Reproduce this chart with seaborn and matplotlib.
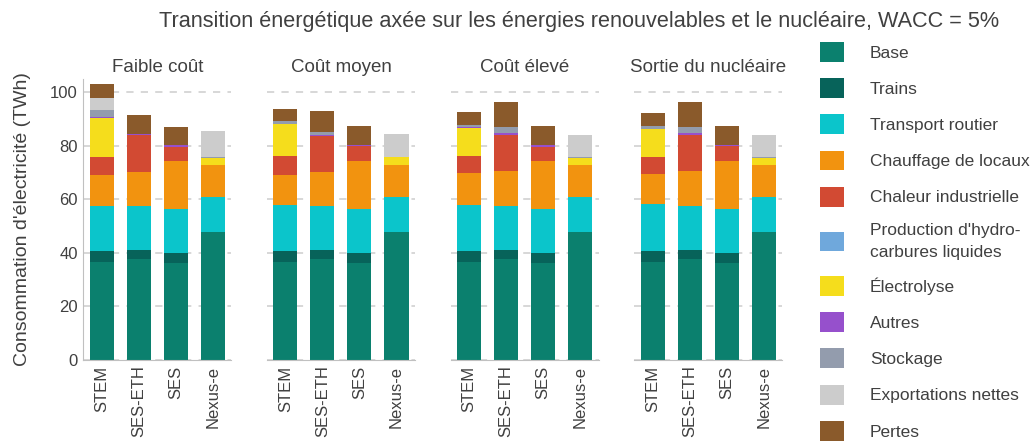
import numpy as np
import pandas as pd
import seaborn as sns
import matplotlib.pyplot as plt
from matplotlib.patches import Patch

models = ["STEM", "SES-ETH", "SES", "Nexus-e"]
scenarios = ["Faible coût", "Coût moyen", "Coût élevé", "Sortie du nucléaire"]
categories = ["Base", "Trains", "Transport routier", "Chauffage de locaux",
              "Chaleur industrielle", "Production d'hydro-\ncarbures liquides",
              "Électrolyse", "Autres", "Stockage", "Exportations nettes", "Pertes"]
colors = ["#0b806e", "#07635a", "#0bc5cb", "#f2930f", "#d24a33", "#6fa8dc",
          "#f5dd1c", "#9650cc", "#939cad", "#cccccc", "#8a5a2b"]

# TWh per category (rows) for STEM, SES-ETH, SES, Nexus-e
faible = [
    [36.6, 37.7, 36.2, 47.8],
    [4.1, 3.4, 3.8, 0.0],
    [17.0, 16.6, 16.4, 13.1],
    [11.4, 12.5, 17.9, 12.0],
    [6.7, 13.8, 5.3, 0.0],
    [0.0, 0.0, 0.0, 0.0],
    [14.6, 0.0, 0.0, 2.6],
    [0.4, 0.3, 0.8, 0.0],
    [2.6, 0.2, 0.0, 0.3],
    [4.5, 0.0, 0.0, 9.8],
    [5.2, 7.0, 6.6, 0.0],
]
moyen = [
    [36.6, 37.7, 36.2, 47.8],
    [4.1, 3.4, 3.8, 0.0],
    [17.1, 16.6, 16.4, 13.1],
    [11.3, 12.5, 17.9, 12.0],
    [7.1, 13.6, 5.6, 0.0],
    [0.0, 0.0, 0.0, 0.0],
    [12.0, 0.0, 0.0, 2.9],
    [0.0, 0.4, 0.4, 0.0],
    [1.1, 1.0, 0.0, 0.0],
    [0.0, 0.0, 0.0, 8.6],
    [4.5, 7.8, 7.1, 0.0],
]
eleve = [
    [36.6, 37.7, 36.2, 47.8],
    [4.1, 3.4, 3.8, 0.0],
    [17.2, 16.6, 16.4, 13.1],
    [12.0, 12.9, 17.9, 12.0],
    [6.3, 13.5, 5.3, 0.0],
    [0.0, 0.0, 0.0, 0.0],
    [10.5, 0.0, 0.0, 2.6],
    [0.3, 0.7, 0.7, 0.0],
    [0.8, 2.2, 0.0, 0.3],
    [0.0, 0.0, 0.0, 8.3],
    [4.9, 9.4, 7.1, 0.0],
]
sortie = [
    [36.6, 37.7, 36.2, 47.8],
    [4.1, 3.4, 3.8, 0.0],
    [17.7, 16.6, 16.4, 13.1],
    [11.1, 12.9, 17.9, 12.0],
    [6.3, 13.5, 5.6, 0.0],
    [0.0, 0.0, 0.0, 0.0],
    [10.5, 0.0, 0.0, 2.6],
    [0.0, 0.7, 0.4, 0.0],
    [1.1, 2.2, 0.0, 0.3],
    [0.0, 0.0, 0.0, 8.3],
    [4.9, 9.4, 7.1, 0.0],
]

sns.set_style("white")
plt.rcParams["font.family"] = ["Liberation Sans", "DejaVu Sans"]
txt = "#404040"

fig, axes = plt.subplots(1, 4, figsize=(10.32, 4.45), dpi=100, sharey=True)
fig.subplots_adjust(left=0.0807, right=0.758, bottom=0.191, top=0.8225, wspace=0.24)

for ax, scen, vals in zip(axes, scenarios, [faible, moyen, eleve, sortie]):
    df = pd.DataFrame(vals, index=categories, columns=models)
    bottom = np.zeros(len(models))
    for cat, col in zip(categories, colors):
        sns.barplot(x=models, y=df.loc[cat].values, order=models, color=col,
                    width=0.65, bottom=bottom, errorbar=None, linewidth=0,
                    saturation=1, ax=ax)
        bottom = bottom + df.loc[cat].values
    ax.set_title(scen, fontsize=13.5, color=txt, pad=5)
    ax.set_ylim(0, 105)
    ax.set_xlim(-0.5, 3.5)
    ax.set_yticks(range(0, 101, 20))
    ax.yaxis.grid(True, linestyle=(0, (4, 4)), linewidth=1.3, color="#d4d4d4")
    ax.set_axisbelow(True)
    ax.tick_params(axis="x", labelrotation=90, labelsize=12, colors=txt, length=0, pad=4)
    ax.tick_params(axis="y", labelsize=12, colors=txt, length=0, pad=4)
    for s in ["top", "right"]:
        ax.spines[s].set_visible(False)
    ax.spines["bottom"].set_color("#c0c0c0")
    ax.spines["left"].set_color("#c0c0c0")
    if ax is not axes[0]:
        ax.spines["left"].set_visible(False)
        ax.tick_params(axis="y", left=False, labelleft=False)
    ax.set_xlabel("")
    ax.set_ylabel("")

axes[0].set_ylabel("Consommation d'électricité (TWh)", fontsize=14, color=txt, labelpad=14)

fig.suptitle("Transition énergétique axée sur les énergies renouvelables et le nucléaire, WACC = 5%",
             fontsize=15.6, color=txt, x=0.561, y=0.975)

handles = [Patch(facecolor=c, edgecolor="none", label=l) for c, l in zip(colors, categories)]
leg = fig.legend(handles=handles, loc="upper left", bbox_to_anchor=(0.7946, 0.906),
                 frameon=False, fontsize=12.5, handlelength=1.38, handleheight=1.38,
                 handletextpad=1.5, labelspacing=0.945, borderpad=0, borderaxespad=0,
                 labelcolor=txt)
for t in leg.get_texts():
    t.set_linespacing(1.55)

fig.savefig("out.png", dpi=100)
